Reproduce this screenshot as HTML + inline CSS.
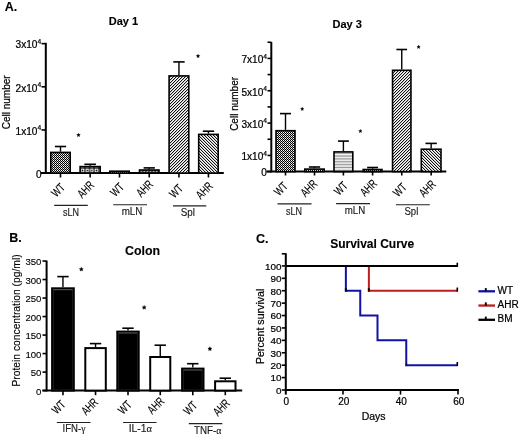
<!DOCTYPE html><html><head><meta charset="utf-8"><style>html,body{margin:0;padding:0;background:#fff;}svg{display:block;will-change:transform;}text{font-family:"Liberation Sans",sans-serif;fill:#000;stroke:#000;stroke-width:0.22px;}text.b{stroke-width:0.12px;}text.c{stroke-width:0.14px;}text.l{stroke-width:0.12px;}</style></head><body>
<svg width="520" height="442" viewBox="0 0 520 442">
<defs>
<pattern id="chk" width="2" height="2" patternUnits="userSpaceOnUse"><rect width="2" height="2" fill="#fff"/><rect width="1" height="1" fill="#000"/><rect x="1" y="1" width="1" height="1" fill="#000"/><rect x="0" y="1" width="1" height="1" fill="#bbb"/></pattern>
<pattern id="dots" width="4.6" height="4.6" patternUnits="userSpaceOnUse" x="80.3" y="168.1"><rect width="4.6" height="4.6" fill="#000"/><rect x="0.55" y="0.55" width="3.5" height="3.5" fill="#fff"/><circle cx="2.3" cy="2.3" r="0.85" fill="#000"/></pattern>
<pattern id="dots2" width="3.1" height="6" patternUnits="userSpaceOnUse" x="139.6" y="170.3"><rect width="3.1" height="6" fill="#000"/><rect x="0.5" y="0.3" width="2.1" height="1.6" fill="#ccc"/></pattern>
<pattern id="hl" width="3" height="2.9" patternUnits="userSpaceOnUse"><rect width="3" height="2.9" fill="#fff"/><rect y="1.7" width="3" height="1" fill="#666"/></pattern>
<pattern id="dr" width="3" height="3" patternUnits="userSpaceOnUse"><rect width="3" height="3" fill="#fff"/><rect x="0" y="0" width="1" height="1" fill="#111"/><rect x="1" y="2" width="1" height="1" fill="#111"/><rect x="2" y="1" width="1" height="1" fill="#111"/><rect x="1" y="0" width="1" height="1" fill="#c4c4c4"/><rect x="0" y="1" width="1" height="1" fill="#c4c4c4"/><rect x="2" y="2" width="1" height="1" fill="#c4c4c4"/></pattern>
<pattern id="dl" width="3" height="3" patternUnits="userSpaceOnUse"><rect width="3" height="3" fill="#fff"/><rect x="0" y="0" width="1" height="1" fill="#111"/><rect x="1" y="1" width="1" height="1" fill="#111"/><rect x="2" y="2" width="1" height="1" fill="#111"/><rect x="1" y="0" width="1" height="1" fill="#c4c4c4"/><rect x="2" y="1" width="1" height="1" fill="#c4c4c4"/><rect x="0" y="2" width="1" height="1" fill="#c4c4c4"/></pattern>
</defs>
<rect width="520" height="442" fill="#fff"/>
<text x="4.8" y="10.6" font-size="12.5" text-anchor="start" font-weight="bold" class="b" >A.</text>
<text x="123.5" y="24.6" font-size="11" text-anchor="middle" font-weight="bold" class="b" >Day 1</text>
<text x="347.2" y="27.5" font-size="11" text-anchor="middle" font-weight="bold" class="b" >Day 3</text>
<line x1="45.8" y1="42.8" x2="45.8" y2="173.9" stroke="#000" stroke-width="2"/>
<line x1="41.5" y1="173.1" x2="45.8" y2="173.1" stroke="#000" stroke-width="1.6"/>
<line x1="41.5" y1="129.95" x2="45.8" y2="129.95" stroke="#000" stroke-width="1.6"/>
<line x1="41.5" y1="86.8" x2="45.8" y2="86.8" stroke="#000" stroke-width="1.6"/>
<line x1="41.5" y1="43.650000000000006" x2="45.8" y2="43.650000000000006" stroke="#000" stroke-width="1.6"/>
<text x="41.2" y="134.64999999999998" font-size="10.1" text-anchor="end">1x10<tspan font-size="6.666" dy="-4.7">4</tspan></text>
<text x="41.2" y="91.5" font-size="10.1" text-anchor="end">2x10<tspan font-size="6.666" dy="-4.7">4</tspan></text>
<text x="41.2" y="48.35000000000001" font-size="10.1" text-anchor="end">3x10<tspan font-size="6.666" dy="-4.7">4</tspan></text>
<text x="41.6" y="177.6" font-size="10" text-anchor="end" font-weight="normal" >0</text>
<text transform="translate(9.6,102.3) rotate(-90)" font-size="10" text-anchor="middle">Cell number</text>
<line x1="41" y1="173.1" x2="223.8" y2="173.1" stroke="#000" stroke-width="2"/>
<line x1="60.5" y1="151.6" x2="60.5" y2="146.5" stroke="#000" stroke-width="1.4"/>
<line x1="54.8825" y1="146.5" x2="66.1175" y2="146.5" stroke="#000" stroke-width="1.6"/>
<rect x="50.8" y="152.4" width="19.4" height="20.7" fill="url(#chk)" stroke="#000" stroke-width="1.6"/>
<line x1="60.5" y1="173.1" x2="60.5" y2="177.5" stroke="#000" stroke-width="1.6"/>
<line x1="90.15" y1="165.8" x2="90.15" y2="164.3" stroke="#000" stroke-width="1.4"/>
<line x1="84.34525000000001" y1="164.3" x2="95.95475" y2="164.3" stroke="#000" stroke-width="1.6"/>
<rect x="80.1" y="166.60000000000002" width="20.1" height="6.499999999999983" fill="url(#dots)" stroke="#000" stroke-width="1.6"/>
<line x1="90.15" y1="173.1" x2="90.15" y2="177.5" stroke="#000" stroke-width="1.6"/>
<rect x="109.8" y="171.20000000000002" width="19.4" height="1.8999999999999886" fill="url(#chk)" stroke="#000" stroke-width="1.6"/>
<line x1="119.5" y1="173.1" x2="119.5" y2="177.5" stroke="#000" stroke-width="1.6"/>
<line x1="149.25" y1="169.2" x2="149.25" y2="167.9" stroke="#000" stroke-width="1.4"/>
<line x1="143.60575" y1="167.9" x2="154.89425" y2="167.9" stroke="#000" stroke-width="1.6"/>
<rect x="139.5" y="170.0" width="19.50000000000002" height="3.100000000000006" fill="url(#dots2)" stroke="#000" stroke-width="1.6"/>
<line x1="149.25" y1="173.1" x2="149.25" y2="177.5" stroke="#000" stroke-width="1.6"/>
<line x1="178.95" y1="75.1" x2="178.95" y2="61.9" stroke="#000" stroke-width="1.4"/>
<line x1="173.25225" y1="61.9" x2="184.64774999999997" y2="61.9" stroke="#000" stroke-width="1.6"/>
<rect x="169.10000000000002" y="75.89999999999999" width="19.69999999999998" height="97.2" fill="url(#dr)" stroke="#000" stroke-width="1.6"/>
<line x1="178.95" y1="173.1" x2="178.95" y2="177.5" stroke="#000" stroke-width="1.6"/>
<line x1="208.45" y1="133.6" x2="208.45" y2="131.2" stroke="#000" stroke-width="1.4"/>
<line x1="202.80575" y1="131.2" x2="214.09425" y2="131.2" stroke="#000" stroke-width="1.6"/>
<rect x="198.70000000000002" y="134.4" width="19.499999999999993" height="38.7" fill="url(#dl)" stroke="#000" stroke-width="1.6"/>
<line x1="208.45" y1="173.1" x2="208.45" y2="177.5" stroke="#000" stroke-width="1.6"/>
<polygon points="78.50,133.30 79.03,134.37 80.21,134.54 79.36,135.38 79.56,136.56 78.50,136.00 77.44,136.56 77.64,135.38 76.79,134.54 77.97,134.37" fill="#000" stroke="#000" stroke-width="0.4"/>
<polygon points="198.05,54.30 198.58,55.37 199.76,55.54 198.91,56.38 199.11,57.56 198.05,57.00 196.99,57.56 197.19,56.38 196.34,55.54 197.52,55.37" fill="#000" stroke="#000" stroke-width="0.4"/>
<line x1="271.3" y1="42" x2="271.3" y2="172.4" stroke="#000" stroke-width="2"/>
<line x1="267.5" y1="171.6" x2="271.3" y2="171.6" stroke="#000" stroke-width="1.6"/>
<line x1="267.5" y1="155.43" x2="271.3" y2="155.43" stroke="#000" stroke-width="1.6"/>
<line x1="267.5" y1="139.26" x2="271.3" y2="139.26" stroke="#000" stroke-width="1.6"/>
<line x1="267.5" y1="123.08999999999999" x2="271.3" y2="123.08999999999999" stroke="#000" stroke-width="1.6"/>
<line x1="267.5" y1="106.91999999999999" x2="271.3" y2="106.91999999999999" stroke="#000" stroke-width="1.6"/>
<line x1="267.5" y1="90.74999999999999" x2="271.3" y2="90.74999999999999" stroke="#000" stroke-width="1.6"/>
<line x1="267.5" y1="74.57999999999998" x2="271.3" y2="74.57999999999998" stroke="#000" stroke-width="1.6"/>
<line x1="267.5" y1="58.40999999999998" x2="271.3" y2="58.40999999999998" stroke="#000" stroke-width="1.6"/>
<line x1="267.5" y1="42.23999999999998" x2="271.3" y2="42.23999999999998" stroke="#000" stroke-width="1.6"/>
<text x="267" y="160.23000000000002" font-size="10.1" text-anchor="end">1x10<tspan font-size="6.666" dy="-4.7">4</tspan></text>
<text x="267" y="127.88999999999999" font-size="10.1" text-anchor="end">3x10<tspan font-size="6.666" dy="-4.7">4</tspan></text>
<text x="267" y="95.54999999999998" font-size="10.1" text-anchor="end">5x10<tspan font-size="6.666" dy="-4.7">4</tspan></text>
<text x="267" y="63.20999999999998" font-size="10.1" text-anchor="end">7x10<tspan font-size="6.666" dy="-4.7">4</tspan></text>
<text x="266.9" y="175.8" font-size="10" text-anchor="end" font-weight="normal" >0</text>
<text transform="translate(237.5,103.9) rotate(-90)" font-size="10" text-anchor="middle">Cell number</text>
<line x1="266.5" y1="171.6" x2="446.3" y2="171.6" stroke="#000" stroke-width="2"/>
<line x1="285.5" y1="129.9" x2="285.5" y2="113.6" stroke="#000" stroke-width="1.4"/>
<line x1="279.9895" y1="113.6" x2="291.0105" y2="113.6" stroke="#000" stroke-width="1.6"/>
<rect x="276.0" y="130.70000000000002" width="19.00000000000002" height="40.89999999999999" fill="url(#chk)" stroke="#000" stroke-width="1.6"/>
<line x1="285.5" y1="171.6" x2="285.5" y2="175.5" stroke="#000" stroke-width="1.6"/>
<line x1="314.5" y1="168.3" x2="314.5" y2="167" stroke="#000" stroke-width="1.4"/>
<line x1="308.8825" y1="167" x2="320.1175" y2="167" stroke="#000" stroke-width="1.6"/>
<rect x="304.8" y="169.10000000000002" width="19.4" height="2.499999999999983" fill="url(#chk)" stroke="#000" stroke-width="1.6"/>
<line x1="314.5" y1="171.6" x2="314.5" y2="175.5" stroke="#000" stroke-width="1.6"/>
<line x1="343.4" y1="151.1" x2="343.4" y2="141.1" stroke="#000" stroke-width="1.4"/>
<line x1="337.943" y1="141.1" x2="348.85699999999997" y2="141.1" stroke="#000" stroke-width="1.6"/>
<rect x="334.0" y="151.9" width="18.800000000000033" height="19.7" fill="url(#hl)" stroke="#000" stroke-width="1.6"/>
<line x1="343.4" y1="171.6" x2="343.4" y2="175.5" stroke="#000" stroke-width="1.6"/>
<line x1="372.6" y1="168.7" x2="372.6" y2="167.5" stroke="#000" stroke-width="1.4"/>
<line x1="367.14300000000003" y1="167.5" x2="378.057" y2="167.5" stroke="#000" stroke-width="1.6"/>
<rect x="363.2" y="169.5" width="18.800000000000033" height="2.100000000000006" fill="url(#chk)" stroke="#000" stroke-width="1.6"/>
<line x1="372.6" y1="171.6" x2="372.6" y2="175.5" stroke="#000" stroke-width="1.6"/>
<line x1="401.75" y1="69.5" x2="401.75" y2="49.5" stroke="#000" stroke-width="1.4"/>
<line x1="396.4" y1="49.5" x2="407.1" y2="49.5" stroke="#000" stroke-width="1.6"/>
<rect x="392.55" y="70.3" width="18.4" height="101.3" fill="url(#dr)" stroke="#000" stroke-width="1.6"/>
<line x1="401.75" y1="171.6" x2="401.75" y2="175.5" stroke="#000" stroke-width="1.6"/>
<line x1="431.15" y1="148.4" x2="431.15" y2="143.4" stroke="#000" stroke-width="1.4"/>
<line x1="425.45225" y1="143.4" x2="436.84774999999996" y2="143.4" stroke="#000" stroke-width="1.6"/>
<rect x="421.3" y="149.20000000000002" width="19.70000000000001" height="22.399999999999988" fill="url(#dl)" stroke="#000" stroke-width="1.6"/>
<line x1="431.15" y1="171.6" x2="431.15" y2="175.5" stroke="#000" stroke-width="1.6"/>
<polygon points="302.20,107.30 302.70,108.31 303.82,108.47 303.01,109.26 303.20,110.38 302.20,109.85 301.20,110.38 301.39,109.26 300.58,108.47 301.70,108.31" fill="#000" stroke="#000" stroke-width="0.4"/>
<polygon points="360.35,129.40 360.85,130.41 361.97,130.57 361.16,131.36 361.35,132.48 360.35,131.95 359.35,132.48 359.54,131.36 358.73,130.57 359.85,130.41" fill="#000" stroke="#000" stroke-width="0.4"/>
<polygon points="418.60,45.30 419.10,46.31 420.22,46.47 419.41,47.26 419.60,48.38 418.60,47.85 417.60,48.38 417.79,47.26 416.98,46.47 418.10,46.31" fill="#000" stroke="#000" stroke-width="0.4"/>
<text class="c" x="0" y="0" font-size="12" text-anchor="end" transform="translate(65.8,188.3) rotate(-45)" textLength="13.4" lengthAdjust="spacingAndGlyphs">WT</text>
<text class="c" x="0" y="0" font-size="12" text-anchor="end" transform="translate(94.9,186.0) rotate(-45)" textLength="18.0" lengthAdjust="spacingAndGlyphs">AHR</text>
<text class="c" x="0" y="0" font-size="12" text-anchor="end" transform="translate(124.8,187.84) rotate(-45)" textLength="13.4" lengthAdjust="spacingAndGlyphs">WT</text>
<text class="c" x="0" y="0" font-size="12" text-anchor="end" transform="translate(153.89999999999998,185.1) rotate(-45)" textLength="18.0" lengthAdjust="spacingAndGlyphs">AHR</text>
<text class="c" x="0" y="0" font-size="12" text-anchor="end" transform="translate(183.7,189.3) rotate(-45)" textLength="13.4" lengthAdjust="spacingAndGlyphs">WT</text>
<text class="c" x="0" y="0" font-size="12" text-anchor="end" transform="translate(213.59999999999997,186.96) rotate(-45)" textLength="18.0" lengthAdjust="spacingAndGlyphs">AHR</text>
<line x1="54.2" y1="205.4" x2="87.8" y2="205.4" stroke="#222" stroke-width="1.1"/>
<text class="c" x="63.0" y="215.7" font-size="10" textLength="16.0" lengthAdjust="spacingAndGlyphs" style="fill:#1a1a1a;stroke:#1a1a1a">sLN</text>
<line x1="113.2" y1="204.75" x2="147" y2="204.75" stroke="#222" stroke-width="1.1"/>
<text class="c" x="121.7" y="215.1" font-size="10" textLength="20.700000000000003" lengthAdjust="spacingAndGlyphs" style="fill:#1a1a1a;stroke:#1a1a1a">mLN</text>
<line x1="173" y1="205.9" x2="206.3" y2="205.9" stroke="#222" stroke-width="1.1"/>
<text class="c" x="180.7" y="216.1" font-size="10" textLength="14.200000000000017" lengthAdjust="spacingAndGlyphs" style="fill:#1a1a1a;stroke:#1a1a1a">Spl</text>
<text class="c" x="0" y="0" font-size="12" text-anchor="end" transform="translate(288.4,187.0) rotate(-45)" textLength="13.4" lengthAdjust="spacingAndGlyphs">WT</text>
<text class="c" x="0" y="0" font-size="12" text-anchor="end" transform="translate(318.2,184.7) rotate(-45)" textLength="18.0" lengthAdjust="spacingAndGlyphs">AHR</text>
<text class="c" x="0" y="0" font-size="12" text-anchor="end" transform="translate(348.4,186.56) rotate(-45)" textLength="13.4" lengthAdjust="spacingAndGlyphs">WT</text>
<text class="c" x="0" y="0" font-size="12" text-anchor="end" transform="translate(377.79999999999995,184.29999999999998) rotate(-45)" textLength="18.0" lengthAdjust="spacingAndGlyphs">AHR</text>
<text class="c" x="0" y="0" font-size="12" text-anchor="end" transform="translate(407.55,187.94) rotate(-45)" textLength="13.4" lengthAdjust="spacingAndGlyphs">WT</text>
<text class="c" x="0" y="0" font-size="12" text-anchor="end" transform="translate(436.7,185.1) rotate(-45)" textLength="18.0" lengthAdjust="spacingAndGlyphs">AHR</text>
<line x1="277.5" y1="203.9" x2="311.5" y2="203.9" stroke="#222" stroke-width="1.1"/>
<text class="c" x="285.9" y="214.6" font-size="10" textLength="16.0" lengthAdjust="spacingAndGlyphs" style="fill:#1a1a1a;stroke:#1a1a1a">sLN</text>
<line x1="336.1" y1="203.6" x2="370" y2="203.6" stroke="#222" stroke-width="1.1"/>
<text class="c" x="344.7" y="214.0" font-size="10" textLength="20.5" lengthAdjust="spacingAndGlyphs" style="fill:#1a1a1a;stroke:#1a1a1a">mLN</text>
<line x1="395.9" y1="204.75" x2="429.8" y2="204.75" stroke="#222" stroke-width="1.1"/>
<text class="c" x="404.5" y="214.9" font-size="10" textLength="13.800000000000011" lengthAdjust="spacingAndGlyphs" style="fill:#1a1a1a;stroke:#1a1a1a">Spl</text>
<text x="9.2" y="241.6" font-size="12.5" text-anchor="start" font-weight="bold" class="b" >B.</text>
<text x="142.5" y="254.8" font-size="12.4" text-anchor="middle" font-weight="bold" class="b" >Colon</text>
<line x1="46.6" y1="260.6" x2="46.6" y2="391.40000000000003" stroke="#000" stroke-width="2"/>
<line x1="42.5" y1="390.6" x2="46.6" y2="390.6" stroke="#000" stroke-width="1.6"/>
<text x="41.4" y="394.6" font-size="9.6" text-anchor="end" font-weight="normal" class="l">0</text>
<line x1="42.5" y1="372.09000000000003" x2="46.6" y2="372.09000000000003" stroke="#000" stroke-width="1.6"/>
<text x="41.4" y="376.09000000000003" font-size="9.6" text-anchor="end" font-weight="normal" class="l">50</text>
<line x1="42.5" y1="353.58000000000004" x2="46.6" y2="353.58000000000004" stroke="#000" stroke-width="1.6"/>
<text x="41.4" y="357.58000000000004" font-size="9.6" text-anchor="end" font-weight="normal" class="l">100</text>
<line x1="42.5" y1="335.07000000000005" x2="46.6" y2="335.07000000000005" stroke="#000" stroke-width="1.6"/>
<text x="41.4" y="339.07000000000005" font-size="9.6" text-anchor="end" font-weight="normal" class="l">150</text>
<line x1="42.5" y1="316.56" x2="46.6" y2="316.56" stroke="#000" stroke-width="1.6"/>
<text x="41.4" y="320.56" font-size="9.6" text-anchor="end" font-weight="normal" class="l">200</text>
<line x1="42.5" y1="298.05" x2="46.6" y2="298.05" stroke="#000" stroke-width="1.6"/>
<text x="41.4" y="302.05" font-size="9.6" text-anchor="end" font-weight="normal" class="l">250</text>
<line x1="42.5" y1="279.54" x2="46.6" y2="279.54" stroke="#000" stroke-width="1.6"/>
<text x="41.4" y="283.54" font-size="9.6" text-anchor="end" font-weight="normal" class="l">300</text>
<line x1="42.5" y1="261.03" x2="46.6" y2="261.03" stroke="#000" stroke-width="1.6"/>
<text x="41.4" y="265.03" font-size="9.6" text-anchor="end" font-weight="normal" class="l">350</text>
<text class="l" transform="translate(20.2,320.5) rotate(-90)" font-size="10.3" text-anchor="middle">Protein concentration (pg/ml)</text>
<line x1="42.5" y1="390.6" x2="242.2" y2="390.6" stroke="#000" stroke-width="2"/>
<line x1="62.95" y1="287.3" x2="62.95" y2="276.6" stroke="#000" stroke-width="1.4"/>
<line x1="57.25" y1="276.6" x2="68.65" y2="276.6" stroke="#000" stroke-width="1.6"/>
<rect x="52.1" y="288.3" width="21.699999999999996" height="102.30000000000001" fill="#000" stroke="#000" stroke-width="2"/>
<rect x="53.5" y="289.6" width="18.899999999999995" height="100.30000000000001" fill="none" stroke="#2a2a2a" stroke-width="0.6"/>
<line x1="53.300000000000004" y1="289.7" x2="72.6" y2="289.7" stroke="#777" stroke-width="0.7"/>
<line x1="62.95" y1="390.6" x2="62.95" y2="395.2" stroke="#000" stroke-width="1.6"/>
<line x1="95.55" y1="347.1" x2="95.55" y2="343.6" stroke="#000" stroke-width="1.4"/>
<line x1="89.85" y1="343.6" x2="101.25" y2="343.6" stroke="#000" stroke-width="1.6"/>
<rect x="85.3" y="348.1" width="20.5" height="42.5" fill="#fff" stroke="#000" stroke-width="2"/>
<line x1="95.55" y1="390.6" x2="95.55" y2="395.2" stroke="#000" stroke-width="1.6"/>
<line x1="128.0" y1="330.6" x2="128.0" y2="328.2" stroke="#000" stroke-width="1.4"/>
<line x1="122.3" y1="328.2" x2="133.7" y2="328.2" stroke="#000" stroke-width="1.6"/>
<rect x="117.3" y="331.6" width="21.39999999999999" height="59.0" fill="#000" stroke="#000" stroke-width="2"/>
<rect x="118.7" y="332.90000000000003" width="18.59999999999999" height="57.0" fill="none" stroke="#2a2a2a" stroke-width="0.6"/>
<line x1="118.5" y1="333.0" x2="137.5" y2="333.0" stroke="#777" stroke-width="0.7"/>
<line x1="128.0" y1="390.6" x2="128.0" y2="395.2" stroke="#000" stroke-width="1.6"/>
<line x1="160.25" y1="356.0" x2="160.25" y2="345.2" stroke="#000" stroke-width="1.4"/>
<line x1="154.55" y1="345.2" x2="165.95" y2="345.2" stroke="#000" stroke-width="1.6"/>
<rect x="150.2" y="357.0" width="20.100000000000023" height="33.60000000000002" fill="#fff" stroke="#000" stroke-width="2"/>
<line x1="160.25" y1="390.6" x2="160.25" y2="395.2" stroke="#000" stroke-width="1.6"/>
<line x1="192.8" y1="367.6" x2="192.8" y2="363.7" stroke="#000" stroke-width="1.4"/>
<line x1="187.10000000000002" y1="363.7" x2="198.5" y2="363.7" stroke="#000" stroke-width="1.6"/>
<rect x="182.1" y="368.6" width="21.400000000000006" height="22.0" fill="#000" stroke="#000" stroke-width="2"/>
<rect x="183.5" y="369.90000000000003" width="18.600000000000005" height="20.0" fill="none" stroke="#2a2a2a" stroke-width="0.6"/>
<line x1="183.29999999999998" y1="370.0" x2="202.3" y2="370.0" stroke="#777" stroke-width="0.7"/>
<line x1="192.8" y1="390.6" x2="192.8" y2="395.2" stroke="#000" stroke-width="1.6"/>
<line x1="225.3" y1="380.3" x2="225.3" y2="378.2" stroke="#000" stroke-width="1.4"/>
<line x1="219.60000000000002" y1="378.2" x2="231.0" y2="378.2" stroke="#000" stroke-width="1.6"/>
<rect x="215.1" y="381.3" width="20.400000000000006" height="9.300000000000011" fill="#fff" stroke="#000" stroke-width="2"/>
<line x1="225.3" y1="390.6" x2="225.3" y2="395.2" stroke="#000" stroke-width="1.6"/>
<text class="c" x="0" y="0" font-size="12" text-anchor="end" transform="translate(66.3,405.4) rotate(-45)" textLength="13.4" lengthAdjust="spacingAndGlyphs">WT</text>
<text class="c" x="0" y="0" font-size="12" text-anchor="end" transform="translate(98.9,403.09999999999997) rotate(-45)" textLength="18.0" lengthAdjust="spacingAndGlyphs">AHR</text>
<text class="c" x="0" y="0" font-size="12" text-anchor="end" transform="translate(132.56,405.46) rotate(-45)" textLength="13.4" lengthAdjust="spacingAndGlyphs">WT</text>
<text class="c" x="0" y="0" font-size="12" text-anchor="end" transform="translate(165.09999999999997,402.09999999999997) rotate(-45)" textLength="18.0" lengthAdjust="spacingAndGlyphs">AHR</text>
<text class="c" x="0" y="0" font-size="12" text-anchor="end" transform="translate(197.9,406.4) rotate(-45)" textLength="13.4" lengthAdjust="spacingAndGlyphs">WT</text>
<text class="c" x="0" y="0" font-size="12" text-anchor="end" transform="translate(230.69999999999996,404.09999999999997) rotate(-45)" textLength="18.0" lengthAdjust="spacingAndGlyphs">AHR</text>
<line x1="56.8" y1="422.5" x2="90.5" y2="422.5" stroke="#222" stroke-width="1.1"/>
<text class="c" x="62.6" y="432" font-size="10" textLength="22.9" lengthAdjust="spacingAndGlyphs" style="fill:#1a1a1a;stroke:#1a1a1a">IFN-<tspan style="font-family:Liberation Serif">γ</tspan></text>
<line x1="123.1" y1="422.5" x2="156.5" y2="422.5" stroke="#222" stroke-width="1.1"/>
<text class="c" x="128.7" y="431.8" font-size="10" textLength="23.30000000000001" lengthAdjust="spacingAndGlyphs" style="fill:#1a1a1a;stroke:#1a1a1a">IL-1<tspan style="font-family:Liberation Serif">α</tspan></text>
<line x1="188.8" y1="423.6" x2="222.3" y2="423.6" stroke="#222" stroke-width="1.1"/>
<text class="c" x="194.0" y="433.6" font-size="10" textLength="27.400000000000006" lengthAdjust="spacingAndGlyphs" style="fill:#1a1a1a;stroke:#1a1a1a">TNF-<tspan style="font-family:Liberation Serif">α</tspan></text>
<polygon points="81.30,267.20 81.92,268.45 83.30,268.65 82.30,269.62 82.53,271.00 81.30,270.35 80.07,271.00 80.30,269.62 79.30,268.65 80.68,268.45" fill="#000" stroke="#000" stroke-width="0.4"/>
<polygon points="144.20,305.40 144.82,306.65 146.20,306.85 145.20,307.82 145.43,309.20 144.20,308.55 142.97,309.20 143.20,307.82 142.20,306.85 143.58,306.65" fill="#000" stroke="#000" stroke-width="0.4"/>
<polygon points="209.90,346.80 210.52,348.05 211.90,348.25 210.90,349.22 211.13,350.60 209.90,349.95 208.67,350.60 208.90,349.22 207.90,348.25 209.28,348.05" fill="#000" stroke="#000" stroke-width="0.4"/>
<text x="256" y="243.1" font-size="12.6" text-anchor="start" font-weight="bold" class="b" >C.</text>
<text x="372.2" y="248" font-size="12" text-anchor="middle" font-weight="bold" class="b" >Survival Curve</text>
<line x1="285.8" y1="253.2" x2="285.8" y2="394.6" stroke="#000" stroke-width="2"/>
<line x1="281.8" y1="253.8" x2="285.8" y2="253.8" stroke="#000" stroke-width="1.6"/>
<line x1="281.8" y1="390.0" x2="285.8" y2="390.0" stroke="#000" stroke-width="1.6"/>
<text x="281.6" y="393.8" font-size="9.9" text-anchor="end" font-weight="normal" >0</text>
<line x1="281.8" y1="377.59" x2="285.8" y2="377.59" stroke="#000" stroke-width="1.6"/>
<text x="281.6" y="381.39" font-size="9.9" text-anchor="end" font-weight="normal" >10</text>
<line x1="281.8" y1="365.18" x2="285.8" y2="365.18" stroke="#000" stroke-width="1.6"/>
<text x="281.6" y="368.98" font-size="9.9" text-anchor="end" font-weight="normal" >20</text>
<line x1="281.8" y1="352.77" x2="285.8" y2="352.77" stroke="#000" stroke-width="1.6"/>
<text x="281.6" y="356.57" font-size="9.9" text-anchor="end" font-weight="normal" >30</text>
<line x1="281.8" y1="340.36" x2="285.8" y2="340.36" stroke="#000" stroke-width="1.6"/>
<text x="281.6" y="344.16" font-size="9.9" text-anchor="end" font-weight="normal" >40</text>
<line x1="281.8" y1="327.95" x2="285.8" y2="327.95" stroke="#000" stroke-width="1.6"/>
<text x="281.6" y="331.75" font-size="9.9" text-anchor="end" font-weight="normal" >50</text>
<line x1="281.8" y1="315.53999999999996" x2="285.8" y2="315.53999999999996" stroke="#000" stroke-width="1.6"/>
<text x="281.6" y="319.34" font-size="9.9" text-anchor="end" font-weight="normal" >60</text>
<line x1="281.8" y1="303.13" x2="285.8" y2="303.13" stroke="#000" stroke-width="1.6"/>
<text x="281.6" y="306.93" font-size="9.9" text-anchor="end" font-weight="normal" >70</text>
<line x1="281.8" y1="290.72" x2="285.8" y2="290.72" stroke="#000" stroke-width="1.6"/>
<text x="281.6" y="294.52000000000004" font-size="9.9" text-anchor="end" font-weight="normal" >80</text>
<line x1="281.8" y1="278.31" x2="285.8" y2="278.31" stroke="#000" stroke-width="1.6"/>
<text x="281.6" y="282.11" font-size="9.9" text-anchor="end" font-weight="normal" >90</text>
<line x1="281.8" y1="265.9" x2="285.8" y2="265.9" stroke="#000" stroke-width="1.6"/>
<text x="281.6" y="269.7" font-size="9.9" text-anchor="end" font-weight="normal" >100</text>
<line x1="285.8" y1="390" x2="459" y2="390" stroke="#000" stroke-width="2"/>
<text x="286.3" y="405" font-size="10" text-anchor="middle" font-weight="normal" >0</text>
<line x1="343.0" y1="390" x2="343.0" y2="394.6" stroke="#000" stroke-width="1.6"/>
<text x="343.8" y="405" font-size="10" text-anchor="middle" font-weight="normal" >20</text>
<line x1="400.5" y1="390" x2="400.5" y2="394.6" stroke="#000" stroke-width="1.6"/>
<text x="401.3" y="405" font-size="10" text-anchor="middle" font-weight="normal" >40</text>
<line x1="458.0" y1="390" x2="458.0" y2="394.6" stroke="#000" stroke-width="1.6"/>
<text x="458.8" y="405" font-size="10" text-anchor="middle" font-weight="normal" >60</text>
<text x="373.6" y="419.5" font-size="10.5" text-anchor="middle" font-weight="normal" >Days</text>
<text transform="translate(263.7,326.4) rotate(-90)" font-size="10.6" text-anchor="middle">Percent survival</text>
<polyline points="285.5,265.9 368.875,265.9 368.875,290.72 458.0,290.72" fill="none" stroke="#bd1e1e" stroke-width="2"/>
<polyline points="285.5,265.9 345.875,265.9 345.875,290.72 360.25,290.72 360.25,315.53999999999996 377.5,315.53999999999996 377.5,340.36 406.25,340.36 406.25,365.18 458.0,365.18" fill="none" stroke="#1212a4" stroke-width="2"/>
<line x1="285.8" y1="265.9" x2="458.0" y2="265.9" stroke="#000" stroke-width="2"/>
<rect x="344.875" y="288.12" width="2" height="3.6" fill="#000" opacity="0.85"/>
<rect x="367.875" y="288.12" width="2" height="3.6" fill="#000" opacity="0.85"/>
<rect x="405.25" y="363.18" width="2" height="3" fill="#000" opacity="0.4"/>
<line x1="457.3" y1="262.7" x2="457.3" y2="266.7" stroke="#000" stroke-width="1.6"/>
<line x1="457.3" y1="287.52000000000004" x2="457.3" y2="291.52000000000004" stroke="#000" stroke-width="1.6"/>
<line x1="457.3" y1="361.98" x2="457.3" y2="365.98" stroke="#000" stroke-width="1.6"/>
<line x1="478.4" y1="291.3" x2="495" y2="291.3" stroke="#1212a4" stroke-width="2.3"/>
<line x1="485.8" y1="288.1" x2="485.8" y2="291.3" stroke="#000" stroke-width="1.9"/>
<text x="497.6" y="293.7" font-size="10" text-anchor="start" font-weight="normal" >WT</text>
<line x1="478.4" y1="305.55" x2="495" y2="305.55" stroke="#bd1e1e" stroke-width="2.3"/>
<line x1="485.8" y1="302.35" x2="485.8" y2="305.55" stroke="#000" stroke-width="1.9"/>
<text x="497.6" y="307.95" font-size="10" text-anchor="start" font-weight="normal" >AHR</text>
<line x1="478.4" y1="319.8" x2="495" y2="319.8" stroke="#000" stroke-width="2.3"/>
<line x1="485.8" y1="316.6" x2="485.8" y2="319.8" stroke="#000" stroke-width="1.9"/>
<text x="497.6" y="322.2" font-size="10" text-anchor="start" font-weight="normal" >BM</text>
</svg></body></html>
